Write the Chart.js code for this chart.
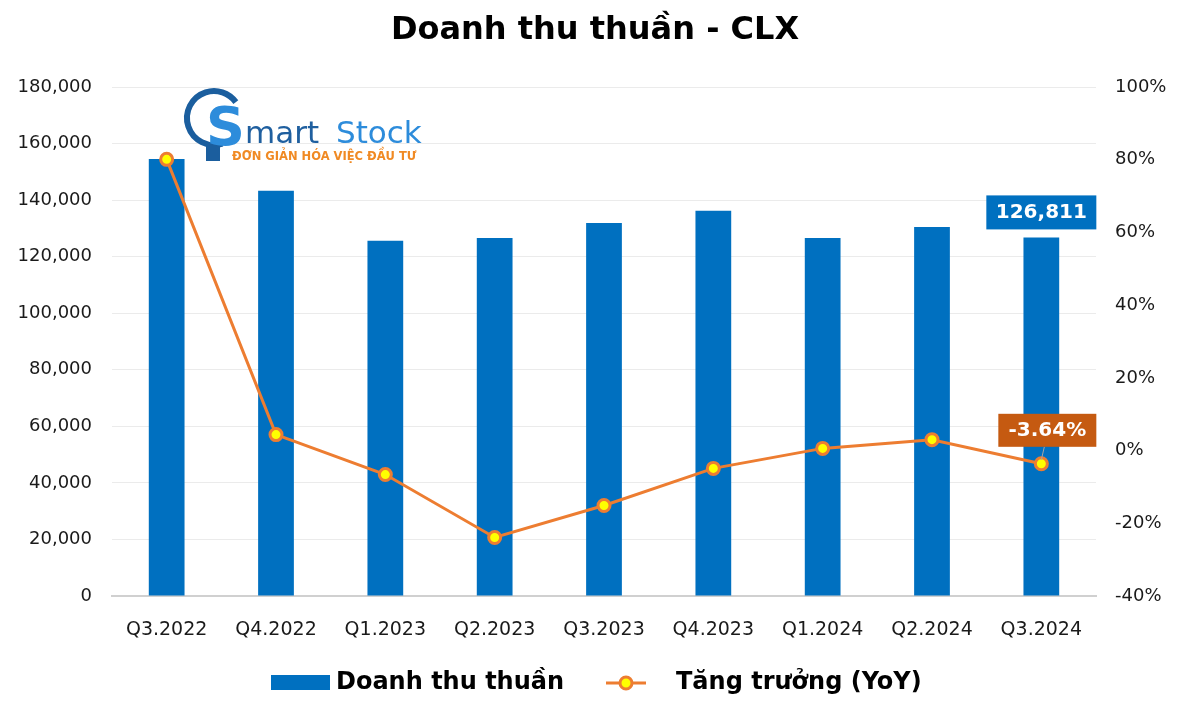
<!DOCTYPE html>
<html>
<head>
<meta charset="utf-8">
<script src="https://cdn.jsdelivr.net/npm/chart.js@4.4.0/dist/chart.umd.min.js"></script>
<style>
  html, body { margin: 0; padding: 0; background: #fff; }
  #wrap { width: 1200px; height: 719px; position: relative; }
</style>
</head>
<body>
<div id="wrap"><canvas id="revChart" width="1200" height="719"></canvas></div>
<script>
// Data
const quarters = ['Q3.2022', 'Q4.2022', 'Q1.2023', 'Q2.2023', 'Q3.2023', 'Q4.2023', 'Q1.2024', 'Q2.2024', 'Q3.2024'];
const revenue = [154500, 143300, 125600, 126600, 131900, 136200, 126600, 130500, 126811];
const growthYoY = [80.1, 4.4, -6.6, -23.9, -15.1, -4.9, 0.6, 3.0, -3.64];
const revenueTicks = { min: 0, max: 180000, step: 20000 };
const growthTicks = { min: -40, max: 100, step: 20 };

const FONT = 'DejaVu Sans';
const BLUE = '#0070C0';
const ORANGE = '#ED7D31';

// Title, logo, value labels and legend
const decorPlugin = {
    id: 'decor',
    afterDraw(chart) {
        const ctx = chart.ctx;
        ctx.save();

        // Title
        ctx.fillStyle = '#000';
        ctx.font = `bold 32px ${FONT}`;
        ctx.textAlign = 'center';
        ctx.textBaseline = 'middle';
        ctx.fillText('Doanh thu thuần - CLX', 595, 31);

        // Watermark logo
        ctx.strokeStyle = '#1B5E9E';
        ctx.lineWidth = 6;
        ctx.beginPath();
        ctx.arc(214, 118, 27, Math.PI * 0.4, Math.PI * 1.8);
        ctx.stroke();
        ctx.fillStyle = '#1B5E9E';
        ctx.fillRect(206, 146, 14, 15);
        ctx.textAlign = 'left';
        ctx.textBaseline = 'alphabetic';
        ctx.fillStyle = '#2D8CDB';
        ctx.font = `bold 54px ${FONT}`;
        ctx.fillText('S', 206, 145);
        ctx.fillStyle = '#1F5F9F';
        ctx.font = `31px ${FONT}`;
        ctx.fillText('mart', 245, 143);
        ctx.fillStyle = '#2D8CDB';
        ctx.fillText('Stock', 336, 143);
        ctx.fillStyle = '#F08A24';
        ctx.font = `bold 11.5px ${FONT}`;
        ctx.fillText('ĐƠN GIẢN HÓA VIỆC ĐẦU TƯ', 232, 160);

        // Last bar value label
        const barMeta = chart.getDatasetMeta(0);
        const lastBar = barMeta.data[barMeta.data.length - 1];
        const barVal = revenue[revenue.length - 1].toLocaleString('en-US');
        ctx.fillStyle = BLUE;
        ctx.fillRect(lastBar.x - 55, lastBar.y - 42, 110, 34);
        ctx.fillStyle = '#fff';
        ctx.font = `bold 20px ${FONT}`;
        ctx.textAlign = 'center';
        ctx.textBaseline = 'middle';
        ctx.fillText(barVal, lastBar.x, lastBar.y - 25);

        // Last growth label with leader
        const lineMeta = chart.getDatasetMeta(1);
        const lastPt = lineMeta.data[lineMeta.data.length - 1];
        const gVal = growthYoY[growthYoY.length - 1].toFixed(2) + '%';
        ctx.strokeStyle = '#A6A6A6';
        ctx.lineWidth = 1;
        ctx.beginPath();
        ctx.moveTo(lastPt.x, lastPt.y - 4);
        ctx.lineTo(lastPt.x + 3, lastPt.y - 17);
        ctx.stroke();
        ctx.fillStyle = '#C55A11';
        ctx.fillRect(lastPt.x - 43, lastPt.y - 50, 98, 33);
        ctx.fillStyle = '#fff';
        ctx.fillText(gVal, lastPt.x + 6, lastPt.y - 33);

        // Legend
        const ly = 683;
        ctx.fillStyle = BLUE;
        ctx.fillRect(271, ly - 8, 59, 15);
        ctx.fillStyle = '#000';
        ctx.font = `bold 24px ${FONT}`;
        ctx.textAlign = 'left';
        ctx.fillText(chart.data.datasets[0].label, 336, ly);
        ctx.strokeStyle = ORANGE;
        ctx.lineWidth = 3;
        ctx.beginPath();
        ctx.moveTo(606, ly);
        ctx.lineTo(646, ly);
        ctx.stroke();
        ctx.beginPath();
        ctx.arc(626, ly, 6, 0, Math.PI * 2);
        ctx.fillStyle = '#FFFF00';
        ctx.fill();
        ctx.stroke();
        ctx.fillStyle = '#000';
        ctx.fillText(chart.data.datasets[1].label, 676, ly);

        ctx.restore();
    }
};

const ctx = document.getElementById('revChart').getContext('2d');
new Chart(ctx, {
    data: {
        labels: quarters,
        datasets: [
            {
                type: 'bar',
                label: 'Doanh thu thuần',
                data: revenue,
                yAxisID: 'y',
                backgroundColor: BLUE,
                categoryPercentage: 1,
                barPercentage: 0.327,
                order: 1
            },
            {
                type: 'line',
                label: 'Tăng trưởng (YoY)',
                data: growthYoY,
                yAxisID: 'y1',
                borderColor: ORANGE,
                borderWidth: 3,
                pointRadius: 6,
                pointBackgroundColor: '#FFFF00',
                pointBorderColor: ORANGE,
                pointBorderWidth: 3,
                tension: 0,
                order: 0
            }
        ]
    },
    options: {
        responsive: false,
        animation: false,
        layout: { padding: { top: 87, left: 0, right: 0, bottom: 0 } },
        plugins: {
            legend: { display: false },
            title: { display: false },
            tooltip: { enabled: false }
        },
        scales: {
            x: {
                grid: { display: false },
                border: { display: true, color: '#D0D0D0', width: 2 },
                ticks: { color: '#1a1a1a', font: { family: FONT, size: 19 }, padding: 15, maxRotation: 0 },
                afterFit(scale) { scale.height = 123; }
            },
            y: {
                position: 'left',
                min: revenueTicks.min,
                max: revenueTicks.max,
                grid: { color: '#EBEBEB', lineWidth: 1, drawTicks: false },
                border: { display: false },
                ticks: {
                    stepSize: revenueTicks.step,
                    padding: 20,
                    color: '#1a1a1a',
                    font: { family: FONT, size: 18 },
                    callback: v => v.toLocaleString('en-US')
                },
                afterFit(scale) { scale.width = 112; }
            },
            y1: {
                position: 'right',
                min: growthTicks.min,
                max: growthTicks.max,
                grid: { display: false, drawTicks: false },
                border: { display: false },
                ticks: {
                    stepSize: growthTicks.step,
                    padding: 19,
                    color: '#1a1a1a',
                    font: { family: FONT, size: 18 },
                    callback: v => v + '%'
                },
                afterFit(scale) { scale.width = 104; }
            }
        }
    },
    plugins: [decorPlugin]
});
</script>
</body>
</html>
